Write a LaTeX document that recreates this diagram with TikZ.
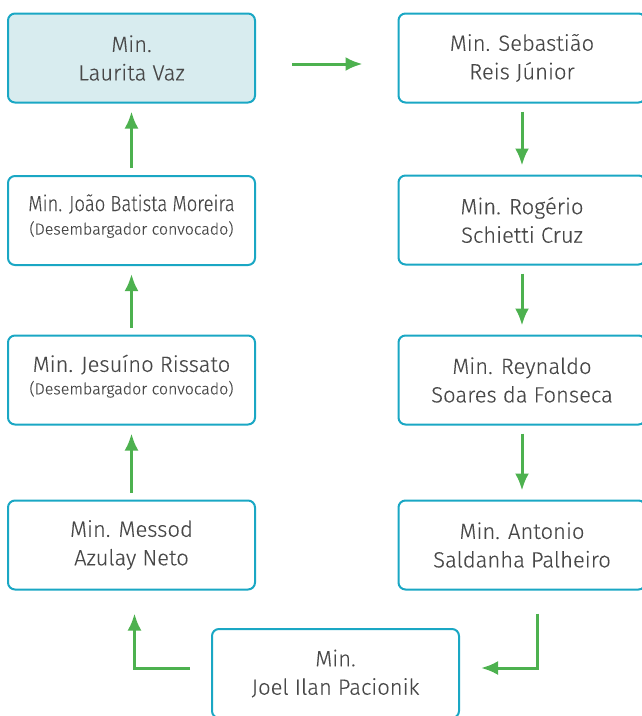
\documentclass[tikz,border=0pt]{standalone}
\usepackage{fontspec}
\setmainfont{Fira Sans}[UprightFont=* Light, FakeBold=0.2]
\newfontfamily\narrowfont{Fira Sans}[UprightFont=* Light, FakeStretch=0.84, FakeBold=0.2]
\usetikzlibrary{arrows.meta}
\definecolor{boxline}{HTML}{1AA7C4}
\definecolor{boxfill}{HTML}{D8ECEF}
\definecolor{flowgreen}{HTML}{4DB14F}
\definecolor{txtgrey}{HTML}{484848}
\tikzset{>={Latex[length=17pt,width=14pt]}}
\tikzset{
  minbox/.style={draw=boxline, line width=2pt, rounded corners=7pt,
    minimum width=247pt, minimum height=89pt, align=center,
    text=txtgrey, font=\fontsize{22}{28.5}\selectfont},
  flow/.style={->, draw=flowgreen, line width=3pt},
}
\newcommand{\convocado}{{\fontsize{16}{20}\selectfont (Desembargador convocado)}}

\begin{document}
\begin{tikzpicture}[x=1pt,y=-1pt]
        \useasboundingbox (0,0) rectangle (642,716);

        % left column, upwards
        \node[minbox, fill=boxfill] (laurita) at (131.5,58) {Min.\\Laurita Vaz};
        \node[minbox, text depth=12pt] (joao) at (131.5,220.5)
            {{\narrowfont Min. João Batista Moreira}\\[-5pt]\convocado};
        \node[minbox, text depth=11pt] (jesuino) at (131.5,380)
            {Min. Jesuíno Rissato\\[-6pt]\convocado};
        \node[minbox] (messod) at (131.5,545) {Min. Messod\\Azulay Neto};

        % right column, downwards
        \node[minbox] (sebastiao) at (522,58) {Min. Sebastião\\Reis Júnior};
        \node[minbox] (rogerio) at (522,220) {Min. Rogério\\Schietti Cruz};
        \node[minbox] (reynaldo) at (522,380) {Min. Reynaldo\\Soares da Fonseca};
        \node[minbox] (antonio) at (522,545) {Min. Antonio\\Saldanha Palheiro};

        % bottom
        \node[minbox] (joel) at (335.5,673.5) {Min.\\Joel Ilan Pacionik};

        \draw[flow, shorten <=36pt, shorten >=35pt] ([yshift=-6pt]laurita.east) -- ([yshift=-6pt]sebastiao.west);
        \draw[flow, shorten <=8pt, shorten >=9pt] (sebastiao) -- (rogerio);
        \draw[flow, shorten <=8pt, shorten >=9pt] (rogerio) -- (reynaldo);
        \draw[flow, shorten <=8pt, shorten >=9pt] (reynaldo) -- (antonio);
        \draw[flow, shorten <=23pt, shorten >=21pt] ([xshift=15pt]antonio.south) |- ([yshift=5.5pt]joel.east);
        \draw[flow, shorten <=21pt, shorten >=23pt] ([yshift=5.5pt]joel.west) -| ([xshift=3pt]messod.south);
        \draw[flow, shorten <=7pt, shorten >=8pt] (messod) -- (jesuino);
        \draw[flow, shorten <=7pt, shorten >=8pt] (jesuino) -- (joao);
        \draw[flow, shorten <=7pt, shorten >=8pt] (joao) -- (laurita);
    \end{tikzpicture}
\end{document}
